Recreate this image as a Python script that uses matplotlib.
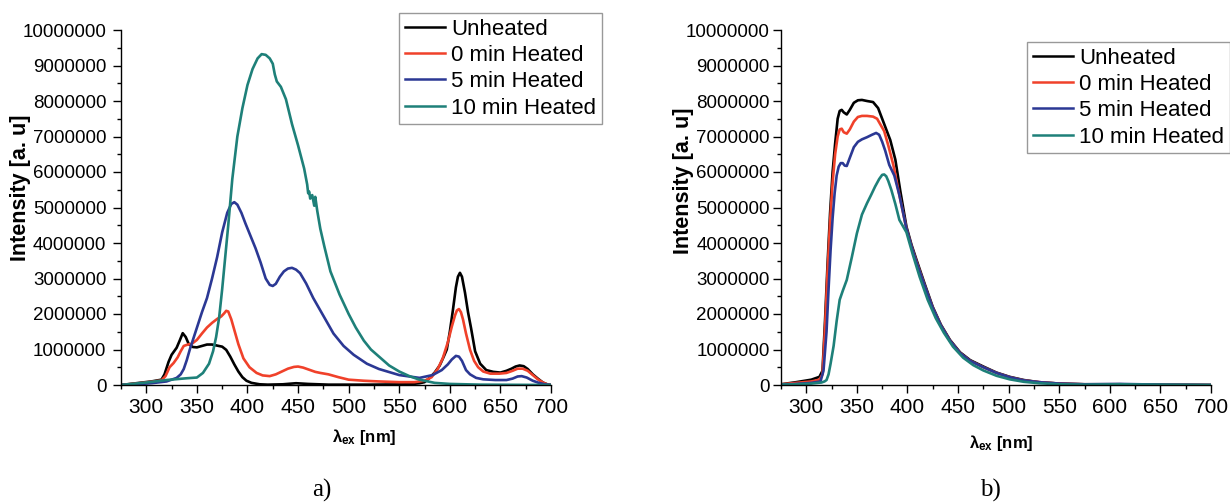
import matplotlib
matplotlib.use("Agg")
import matplotlib.pyplot as plt
from matplotlib.ticker import MultipleLocator, FuncFormatter
import numpy as np

plt.rcParams['font.family'] = ['Liberation Sans', 'DejaVu Sans']
plt.rcParams['mathtext.fontset'] = 'custom'
plt.rcParams['mathtext.rm'] = 'Liberation Sans'
plt.rcParams['mathtext.bf'] = 'Liberation Sans:bold'

SCALE = 1e6  # intensities below are in millions

labels = ["Unheated", "0 min Heated", "5 min Heated", "10 min Heated"]
colors = ["#000000", "#f0412a", "#2b3894", "#1e8079"]

# ---------------- panel a ----------------
wl_a_unheated = [275, 290, 305, 315, 318, 322, 325, 330, 333, 336,
                 339, 342, 346, 350, 355, 360, 365, 370, 375, 379,
                 383, 387, 391, 395, 399, 404, 412, 420, 435, 448,
                 460, 480, 520, 560, 570, 575, 580, 585, 590, 594,
                 597, 600, 603, 606, 608, 610, 612, 615, 618, 621,
                 625, 630, 636, 643, 650, 656, 661, 665, 669, 673,
                 677, 682, 687, 692, 697, 700]
int_a_unheated = [0, 0.05, 0.1, 0.15, 0.3, 0.65, 0.85, 1.05, 1.25, 1.46,
                  1.35, 1.15, 1.07, 1.06, 1.1, 1.14, 1.14, 1.11, 1.08, 0.99,
                  0.8, 0.58, 0.38, 0.22, 0.12, 0.06, 0.02, 0.01, 0.02, 0.05,
                  0.03, 0.01, 0.01, 0.02, 0.05, 0.08, 0.2, 0.35, 0.55, 0.8,
                  1.0, 1.5, 2.1, 2.75, 3.05, 3.16, 3.05, 2.6, 2.05, 1.6,
                  0.95, 0.6, 0.42, 0.37, 0.35, 0.4, 0.46, 0.52, 0.55, 0.53,
                  0.45, 0.3, 0.18, 0.07, 0.01, 0.0]

wl_a_0min = [275, 290, 305, 315, 319, 323, 327, 331, 334, 337,
             341, 345, 350, 355, 360, 365, 370, 374, 377, 379,
             381, 384, 387, 391, 396, 402, 409, 415, 422, 428,
             434, 440, 446, 450, 455, 461, 467, 472, 480, 490,
             500, 515, 530, 550, 565, 575, 582, 588, 593, 598,
             602, 605, 607, 609, 611, 613, 616, 620, 624, 628,
             633, 640, 649, 656, 662, 667, 672, 677, 682, 687,
             692, 697, 700]
int_a_0min = [0, 0.04, 0.09, 0.13, 0.25, 0.5, 0.62, 0.78, 0.95, 1.1,
              1.14, 1.16, 1.27, 1.45, 1.62, 1.75, 1.86, 1.93, 2.02, 2.09,
              2.07, 1.85, 1.55, 1.15, 0.75, 0.5, 0.34, 0.27, 0.25, 0.3,
              0.38, 0.46, 0.51, 0.52, 0.49, 0.43, 0.37, 0.34, 0.3, 0.22,
              0.15, 0.12, 0.1, 0.08, 0.08, 0.12, 0.22, 0.45, 0.75, 1.2,
              1.65, 1.95, 2.1, 2.14, 2.05, 1.85, 1.45, 0.99, 0.68, 0.5,
              0.38, 0.32, 0.32, 0.34, 0.4, 0.46, 0.46, 0.4, 0.28, 0.16,
              0.07, 0.01, 0.0]

wl_a_5min = [275, 290, 305, 320, 330, 334, 337, 340, 343, 347,
             351, 355, 360, 365, 370, 375, 380, 384, 387, 390,
             394, 398, 403, 408, 413, 418, 422, 425, 428, 432,
             436, 440, 444, 448, 452, 458, 465, 475, 485, 495,
             505, 518, 530, 550, 570, 583, 592, 598, 602, 606,
             609, 612, 616, 620, 626, 633, 645, 656, 662, 667,
             671, 676, 682, 688, 694, 700]
int_a_5min = [0, 0.02, 0.05, 0.1, 0.2, 0.3, 0.45, 0.7, 1.0, 1.35,
              1.7, 2.05, 2.45, 3.0, 3.6, 4.3, 4.85, 5.1, 5.15, 5.08,
              4.85, 4.55, 4.2, 3.85, 3.45, 3.0, 2.82, 2.79, 2.85, 3.05,
              3.2, 3.28, 3.3, 3.25, 3.15, 2.86, 2.45, 1.95, 1.45, 1.1,
              0.85, 0.6, 0.45, 0.28, 0.2, 0.28, 0.42, 0.58, 0.72, 0.82,
              0.8, 0.68, 0.42, 0.3, 0.2, 0.16, 0.14, 0.14, 0.18, 0.24,
              0.25, 0.21, 0.12, 0.06, 0.02, 0.0]

wl_a_10min = [275, 300, 320, 340, 350, 356, 362, 366, 369, 372,
              375, 378, 381, 385, 390, 395, 400, 405, 410, 414,
              418, 422, 425, 427, 429, 433, 438, 444, 450, 456,
              459, 460, 461, 462, 464, 466, 467, 469, 472, 476,
              482, 491, 500, 507, 515, 522, 530, 540, 550, 560,
              570, 585, 600, 630, 700]
int_a_10min = [0, 0.07, 0.14, 0.19, 0.21, 0.34, 0.6, 0.95, 1.35, 1.9,
               2.7, 3.6, 4.5, 5.8, 7.0, 7.8, 8.45, 8.9, 9.2, 9.32,
               9.3, 9.2, 9.05, 8.75, 8.55, 8.4, 8.05, 7.35, 6.75, 6.1,
               5.65, 5.4, 5.45, 5.25, 5.35, 5.05, 5.3, 4.9, 4.4, 3.9,
               3.2, 2.55, 2.0, 1.62, 1.25, 1.0, 0.8, 0.55, 0.38, 0.25,
               0.15, 0.06, 0.03, 0.01, 0.0]

# ---------------- panel b ----------------
wl_b_unheated = [275, 290, 305, 313, 316, 318.5, 321, 323.5, 326, 328.5,
                 331, 333, 335, 337, 340, 343, 347, 351, 355, 360,
                 366, 371, 375, 379, 383, 388, 393, 399, 404, 409,
                 417, 425, 433, 442, 452, 462, 475, 488, 501, 515,
                 530, 550, 575, 610, 650, 700]
int_b_unheated = [0.02, 0.08, 0.15, 0.23, 0.4, 1.8, 3.4, 4.84, 6.0, 6.8,
                  7.5, 7.72, 7.75, 7.68, 7.62, 7.75, 7.95, 8.02, 8.03, 8.0,
                  7.97, 7.8, 7.5, 7.2, 6.9, 6.35, 5.45, 4.46, 3.95, 3.52,
                  2.85, 2.2, 1.7, 1.27, 0.92, 0.7, 0.52, 0.35, 0.23, 0.14,
                  0.08, 0.04, 0.02, 0.02, 0.01, 0.0]

wl_b_0min = [275, 290, 305, 313, 316, 318.5, 321, 323.5, 326, 328.5,
             331, 333, 335, 337, 340, 343, 347, 351, 355, 360,
             366, 370, 374, 377, 381, 386, 392, 399, 404, 409,
             417, 425, 433, 442, 452, 462, 475, 488, 501, 515,
             530, 550, 575, 610, 650, 700]
int_b_0min = [0.02, 0.06, 0.1, 0.15, 0.3, 1.6, 3.2, 4.6, 5.7, 6.5,
              7.0, 7.2, 7.22, 7.12, 7.08, 7.2, 7.42, 7.55, 7.58, 7.58,
              7.56, 7.5, 7.3, 7.15, 6.75, 6.2, 5.35, 4.4, 3.9, 3.47,
              2.8, 2.17, 1.68, 1.25, 0.9, 0.68, 0.5, 0.34, 0.22, 0.13,
              0.08, 0.04, 0.02, 0.02, 0.01, 0.0]

wl_b_5min = [275, 290, 305, 314, 317, 320, 322, 324, 326, 328,
             330, 332, 334, 336, 338, 340, 343, 347, 351, 355,
             360, 365, 369, 372, 375, 378, 382, 387, 392, 399,
             404, 409, 417, 425, 433, 442, 452, 462, 475, 488,
             501, 515, 530, 550, 575, 610, 650, 700]
int_b_5min = [0.01, 0.03, 0.06, 0.1, 0.4, 1.5, 2.7, 3.8, 4.7, 5.4,
              5.9, 6.15, 6.25, 6.25, 6.18, 6.17, 6.4, 6.7, 6.85, 6.92,
              6.98, 7.05, 7.1, 7.05, 6.85, 6.6, 6.2, 5.9, 5.35, 4.4,
              3.9, 3.45, 2.8, 2.17, 1.68, 1.25, 0.9, 0.68, 0.5, 0.34,
              0.22, 0.13, 0.08, 0.04, 0.02, 0.03, 0.01, 0.0]

wl_b_10min = [275, 290, 305, 315, 318, 320, 322, 324, 327, 330,
              333, 336, 340, 345, 350, 355, 360, 364, 368, 372,
              375, 377, 379, 381, 384, 388, 392, 399, 405, 412,
              420, 428, 436, 445, 455, 465, 475, 488, 501, 515,
              530, 550, 575, 610, 650, 700]
int_b_10min = [0.01, 0.02, 0.04, 0.07, 0.1, 0.14, 0.3, 0.6, 1.1, 1.8,
               2.4, 2.65, 2.96, 3.6, 4.27, 4.8, 5.12, 5.35, 5.59, 5.8,
               5.92, 5.93, 5.88, 5.75, 5.5, 5.1, 4.65, 4.3, 3.7, 3.05,
               2.4, 1.88, 1.47, 1.08, 0.77, 0.56, 0.41, 0.26, 0.16, 0.09,
               0.05, 0.02, 0.01, 0.02, 0.01, 0.0]

xlim = (275, 700)
ylim = (0, 10000000)

panel_a = [(wl_a_unheated, int_a_unheated), (wl_a_0min, int_a_0min),
           (wl_a_5min, int_a_5min), (wl_a_10min, int_a_10min)]
panel_b = [(wl_b_unheated, int_b_unheated), (wl_b_0min, int_b_0min),
           (wl_b_5min, int_b_5min), (wl_b_10min, int_b_10min)]

W, H = 1230, 503
fig = plt.figure(figsize=(W / 100, H / 100), dpi=100)
fig.patch.set_facecolor('white')

def fx(px):
    return px / W

def fy(py):
    return 1 - py / H

ax_top, ax_bot = 30, 385
axa = fig.add_axes([fx(121), fy(ax_bot), fx(551) - fx(121), fy(ax_top) - fy(ax_bot)])
axb = fig.add_axes([fx(781), fy(ax_bot), fx(1211) - fx(781), fy(ax_top) - fy(ax_bot)])

for ax, data in ((axa, panel_a), (axb, panel_b)):
    for (wl, inten), lab, col in zip(data, labels, colors):
        ax.plot(wl, np.asarray(inten) * SCALE, color=col, lw=1.9, label=lab,
                solid_joinstyle='round')
    ax.set_xlim(*xlim)
    ax.set_ylim(*ylim)
    for s in ('top', 'right'):
        ax.spines[s].set_visible(False)
    for s in ('left', 'bottom'):
        ax.spines[s].set_linewidth(1.0)
    ax.xaxis.set_major_locator(MultipleLocator(50))
    ax.xaxis.set_minor_locator(MultipleLocator(25))
    ax.yaxis.set_major_locator(MultipleLocator(1000000))
    ax.yaxis.set_minor_locator(MultipleLocator(500000))
    ax.yaxis.set_major_formatter(FuncFormatter(lambda v, p: "%d" % round(v)))
    ax.tick_params(axis='both', which='major', direction='out', length=5.5, width=1)
    ax.tick_params(axis='both', which='minor', direction='out', length=3, width=1)
    ax.tick_params(axis='x', which='major', labelsize=15, pad=4)
    ax.tick_params(axis='y', which='major', labelsize=13.5)
    ax.set_xticks([300, 350, 400, 450, 500, 550, 600, 650, 700])
    ax.set_ylabel("Intensity [a. u]", fontsize=15.5, fontweight='bold')
    ax.set_xlabel(r"$\mathbf{\lambda_{ex}}$ [nm]", fontsize=12, fontweight='bold')

axa.tick_params(axis='y', which='major', pad=5)
axb.tick_params(axis='y', which='major', pad=2.5)
axa.yaxis.set_label_coords(-0.21, 0.555)
axb.yaxis.set_label_coords(-0.202, 0.575)
axa.xaxis.set_label_coords(0.565, -0.118)
axb.xaxis.set_label_coords(0.512, -0.135)

leg_kw = dict(fontsize=16, handlelength=1.8, handletextpad=0.3, labelspacing=0.24,
              borderpad=0.25, borderaxespad=0, frameon=True, fancybox=False,
              loc='upper left')
la = axa.legend(bbox_to_anchor=(fx(399), fy(13)), bbox_transform=fig.transFigure, **leg_kw)
lb = axb.legend(bbox_to_anchor=(fx(1027), fy(42)), bbox_transform=fig.transFigure, **leg_kw)
for lg in (la, lb):
    lg.get_frame().set_edgecolor('#808080')
    lg.get_frame().set_linewidth(1.0)
    for ln in lg.get_lines():
        ln.set_linewidth(1.8)

fig.text(fx(322), fy(490), "a)", family=['Liberation Serif', 'DejaVu Serif'],
         fontsize=18, ha='center', va='center')
fig.text(fx(990), fy(490), "b)", family=['Liberation Serif', 'DejaVu Serif'],
         fontsize=18, ha='center', va='center')

fig.savefig("out.png", dpi=100, facecolor='white')
